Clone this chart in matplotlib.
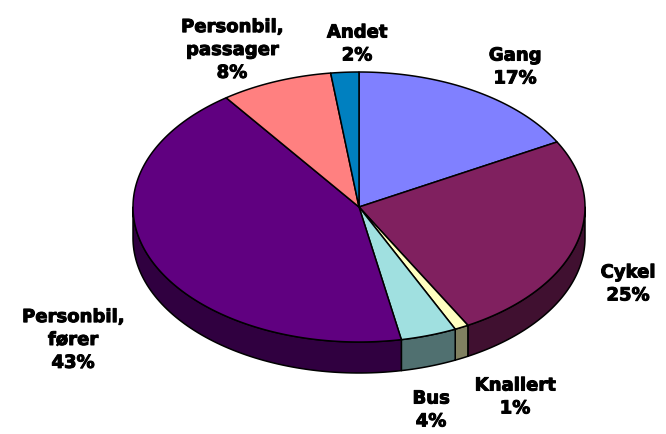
import numpy as np
import matplotlib
matplotlib.use("Agg")
import matplotlib.pyplot as plt
from matplotlib.patches import Polygon
import matplotlib.patheffects as pe

categories = ["Gang", "Cykel", "Knallert", "Bus", "Personbil,\nfører", "Personbil,\npassager", "Andet"]
values = [17, 25, 1, 4, 43, 8, 2]
top_colors = ["#8080FF", "#80205F", "#FFFFC0", "#A0E0E0", "#600080", "#FF8080", "#0080C0"]
side_colors = ["#404080", "#401030", "#808060", "#507070", "#300040", "#804040", "#004060"]
label_pos = [(515, 67), (628, 284), (515, 397), (431, 410), (73, 340), (232, 50), (357, 44)]

W, H = 666, 434
fig = plt.figure(figsize=(W / 100, H / 100), dpi=100)
ax = fig.add_axes([0, 0, 1, 1])
ax.set_xlim(0, W)
ax.set_ylim(H, 0)
ax.axis("off")

cx, cy, rx, ry, depth = 359, 207, 226, 135, 31

def pt(t):
    r = np.radians(t)
    return cx + rx * np.cos(r), cy - ry * np.sin(r)

total = sum(values)
cum = np.concatenate([[0], np.cumsum(values)])
angles = [(90 - 360 * cum[i + 1] / total, 90 - 360 * cum[i] / total) for i in range(len(values))]

# sides (front half: angle in [-180, 0] mod 360)
for (a, b), sc in zip(angles, side_colors):
    for lo, hi in [(-540, -360), (-180, 0), (180, 360)]:
        s, e = max(a, lo), min(b, hi)
        if e > s:
            ts = np.linspace(s, e, 80)
            xs, ys = pt(ts)
            poly = np.vstack([np.column_stack([xs, ys]),
                              np.column_stack([xs[::-1], ys[::-1] + depth])])
            ax.add_patch(Polygon(poly, closed=True, facecolor=sc, edgecolor="black", lw=1.1, joinstyle="round"))

# tops
for (a, b), tc in zip(angles, top_colors):
    ts = np.linspace(b, a, 200)
    xs, ys = pt(ts)
    poly = np.vstack([[cx, cy], np.column_stack([xs, ys])])
    ax.add_patch(Polygon(poly, closed=True, facecolor=tc, edgecolor="black", lw=1.1, joinstyle="round"))

for cat, v, (lx, ly) in zip(categories, values, label_pos):
    ax.text(lx, ly, f"{cat}\n{v}%", ha="center", va="center", fontsize=13,
            fontweight="bold", family="DejaVu Sans", linespacing=1.35,
            path_effects=[pe.withStroke(linewidth=0.7, foreground="black")])

fig.savefig("out.png", dpi=100)
